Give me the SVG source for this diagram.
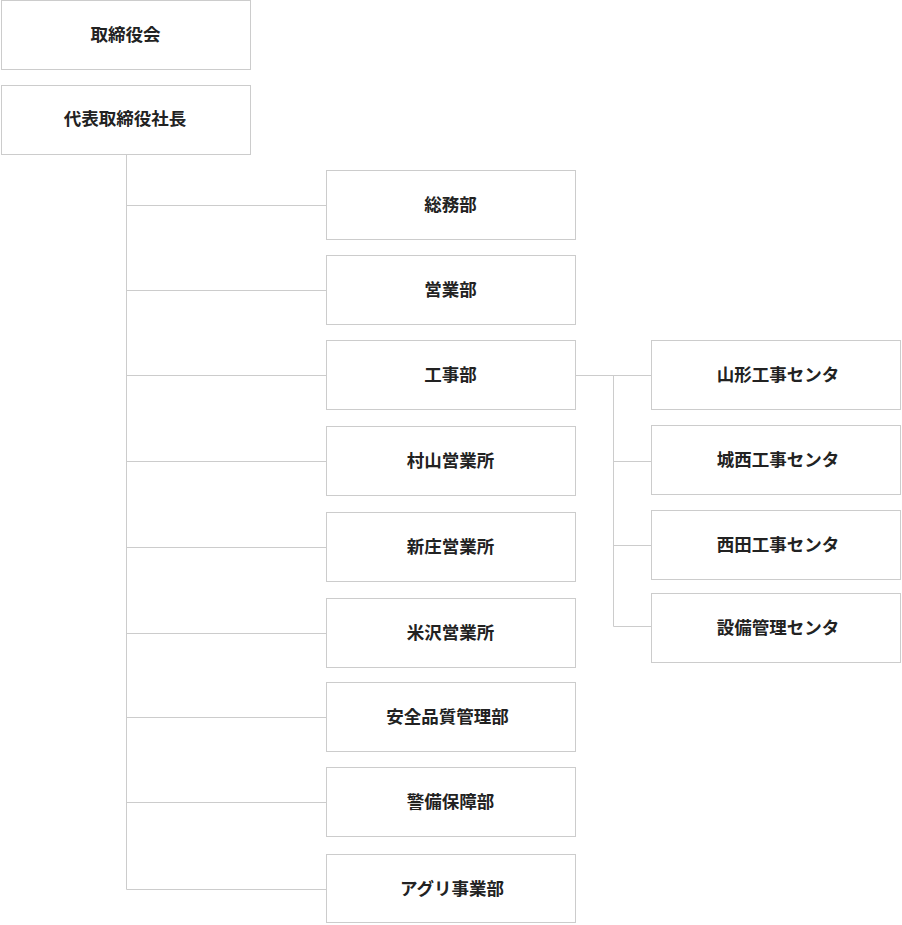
<svg xmlns="http://www.w3.org/2000/svg" width="902" height="925" viewBox="0 0 902 925">
<style>
.box{fill:#fff;stroke:#cccccc;stroke-width:1}
.lbl{font-family:"Noto Sans CJK JP","Noto Sans",sans-serif;font-size:17.5px;font-weight:700;fill:#222;text-anchor:middle;dominant-baseline:central}
.ln{stroke:#cccccc;stroke-width:1;fill:none}
</style>
<rect width="902" height="925" fill="#fff"/>
<g id="connectors">
<path class="ln" d="M126.5 154V889.5"/>
<path class="ln" d="M126.5 205.5H326.5M126.5 290.5H326.5M126.5 375.5H326.5M126.5 461.5H326.5M126.5 547.5H326.5M126.5 633.5H326.5M126.5 717.5H326.5M126.5 802.5H326.5M126.5 889.5H326.5"/>
<path class="ln" d="M575.5 375.5H651.5M613.5 375.5V626.5M613.5 461.5H651.5M613.5 545.5H651.5M613.5 626.5H651.5"/>
</g>
<g id="n-board"><rect class="box" x="1.5" y="0.5" width="249" height="69"/><text class="lbl" x="125.5" y="33">取締役会</text></g>
<g id="n-president"><rect class="box" x="1.5" y="85.5" width="249" height="69"/><text class="lbl" x="125" y="117.5">代表取締役社長</text></g>
<g id="n-somu"><rect class="box" x="326.5" y="170.5" width="249" height="69"/><text class="lbl" x="450.5" y="203">総務部</text></g>
<g id="n-eigyo"><rect class="box" x="326.5" y="255.5" width="249" height="69"/><text class="lbl" x="450.5" y="288">営業部</text></g>
<g id="n-koji"><rect class="box" x="326.5" y="340.5" width="249" height="69"/><text class="lbl" x="450.5" y="373">工事部</text></g>
<g id="n-murayama"><rect class="box" x="326.5" y="426.5" width="249" height="69"/><text class="lbl" x="450.5" y="459">村山営業所</text></g>
<g id="n-shinjo"><rect class="box" x="326.5" y="512.5" width="249" height="69"/><text class="lbl" x="450.5" y="545">新庄営業所</text></g>
<g id="n-yonezawa"><rect class="box" x="326.5" y="598.5" width="249" height="69"/><text class="lbl" x="450.5" y="631">米沢営業所</text></g>
<g id="n-anzen"><rect class="box" x="326.5" y="682.5" width="249" height="69"/><text class="lbl" x="447.5" y="715">安全品質管理部</text></g>
<g id="n-keibi"><rect class="box" x="326.5" y="767.5" width="249" height="69"/><text class="lbl" x="450.5" y="800">警備保障部</text></g>
<g id="n-agri"><rect class="box" x="326.5" y="854.5" width="249" height="68"/><text class="lbl" x="452" y="887">アグリ事業部</text></g>
<g id="n-yamagata"><rect class="box" x="651.5" y="340.5" width="249" height="69"/><text class="lbl" x="778" y="373">山形工事センタ</text></g>
<g id="n-josai"><rect class="box" x="651.5" y="425.5" width="249" height="69"/><text class="lbl" x="778" y="458">城西工事センタ</text></g>
<g id="n-nishida"><rect class="box" x="651.5" y="510.5" width="249" height="69"/><text class="lbl" x="778" y="543">西田工事センタ</text></g>
<g id="n-setsubi"><rect class="box" x="651.5" y="593.5" width="249" height="69"/><text class="lbl" x="778" y="626">設備管理センタ</text></g>
</svg>
